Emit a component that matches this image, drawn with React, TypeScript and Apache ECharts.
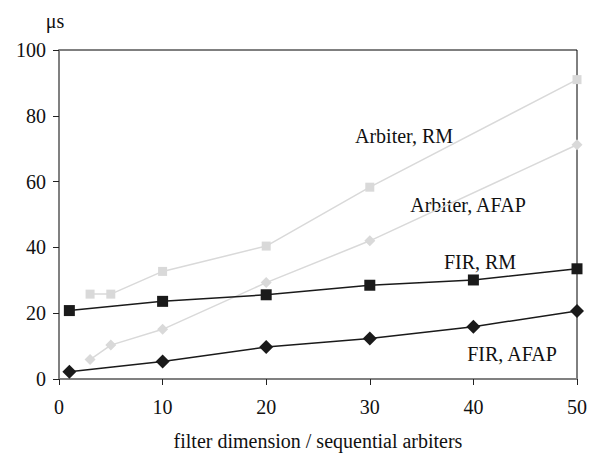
import React, { useEffect, useRef } from "react";
import * as echarts from "echarts";

const arbiterRM: [number, number][] = [[3, 25.8], [5, 25.8], [10, 32.7], [20, 40.4], [30, 58.3], [50, 91]];
const arbiterAFAP: [number, number][] = [[3, 5.9], [5, 10.3], [10, 15.1], [20, 29.3], [30, 42], [50, 71.2]];
const firRM: [number, number][] = [[1, 20.8], [10, 23.6], [20, 25.6], [30, 28.5], [40, 30.1], [50, 33.5]];
const firAFAP: [number, number][] = [[1, 2.2], [10, 5.3], [20, 9.7], [30, 12.3], [40, 15.9], [50, 20.7]];
const seriesNames = ["Arbiter, RM", "Arbiter, AFAP", "FIR, RM", "FIR, AFAP"];
const yUnit = "μs";
const xTitle = "filter dimension / sequential arbiters";

const FONT = "Liberation Serif";
const GRAY = "#d9d9d9";
const DARK = "#1a1a1a";

export default function App() {
  const ref = useRef<HTMLDivElement>(null);
  useEffect(() => {
    if (!ref.current) return;
    const chart = echarts.init(ref.current, undefined, { renderer: "svg" });
    const mk = (name: string, data: [number, number][], color: string, symbol: string, size: number, lw: number) => ({
      name,
      type: "line",
      data,
      symbol,
      symbolSize: size,
      showSymbol: true,
      lineStyle: { color, width: lw },
      itemStyle: { color, borderWidth: 0 },
      z: color === DARK ? 3 : 2,
    });
    const txt = (text: string, x: number, y: number) => ({
      type: "text",
      x,
      y,
      style: { text, fontSize: 20, fontFamily: FONT, fill: "#111", align: "center", verticalAlign: "middle" },
    });
    chart.setOption({
      animation: false,
      textStyle: { fontFamily: FONT },
      grid: { left: 59, right: 20, top: 50, bottom: 70, show: true, borderColor: "#000", borderWidth: 1, backgroundColor: "transparent" },
      xAxis: {
        type: "value",
        min: 0,
        max: 50,
        interval: 10,
        name: xTitle,
        nameLocation: "middle",
        nameGap: 52,
        nameTextStyle: { fontSize: 20, fontFamily: FONT, color: "#111" },
        axisLine: { show: true, lineStyle: { color: "#808080", width: 2 } },
        axisTick: { show: true, length: 6, lineStyle: { color: "#222", width: 1 } },
        axisLabel: { fontSize: 20, fontFamily: FONT, color: "#111", margin: 18 },
        splitLine: { show: false },
      },
      yAxis: {
        type: "value",
        min: 0,
        max: 100,
        interval: 20,
        axisLine: { show: true, lineStyle: { color: "#808080", width: 2 } },
        axisTick: { show: true, length: 6, lineStyle: { color: "#222", width: 1 } },
        axisLabel: { fontSize: 20, fontFamily: FONT, color: "#111", margin: 13 },
        splitLine: { show: false },
      },
      graphic: [
        txt(yUnit, 55, 21),
        txt(seriesNames[0], 404, 136),
        txt(seriesNames[1], 468, 205),
        txt(seriesNames[2], 480, 262),
        txt(seriesNames[3], 512, 354),
      ],
      series: [
        mk(seriesNames[0], arbiterRM, GRAY, "rect", 9, 1.5),
        mk(seriesNames[1], arbiterAFAP, GRAY, "diamond", 11, 1.5),
        mk(seriesNames[2], firRM, DARK, "rect", 11, 1.5),
        mk(seriesNames[3], firAFAP, DARK, "diamond", 14, 1.5),
      ],
    });
    return () => chart.dispose();
  }, []);
  return <div ref={ref} style={{ position: "absolute", left: 0, top: 0, width: 597, height: 456, background: "#fff" }} />;
}
